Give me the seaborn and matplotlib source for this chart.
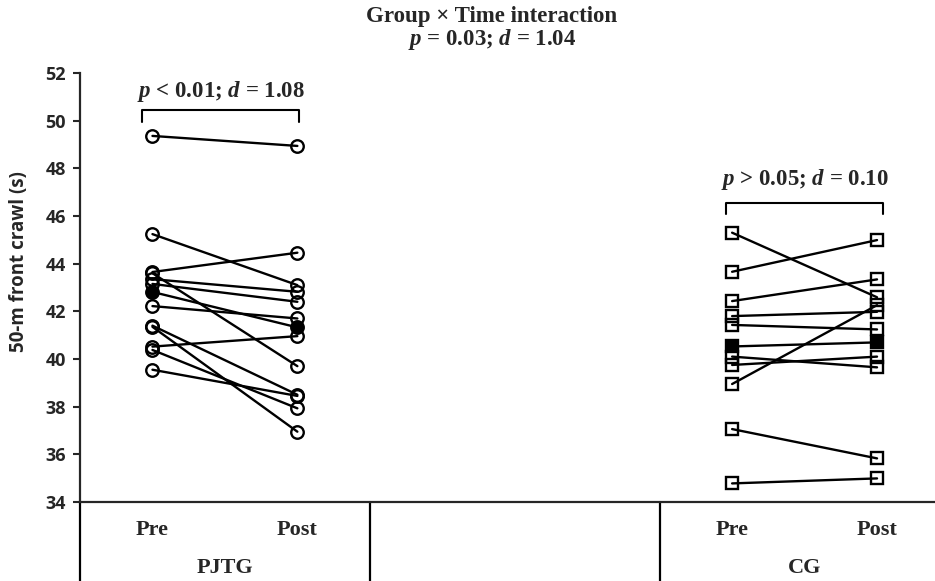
import numpy as np
import pandas as pd
import seaborn as sns
import matplotlib.pyplot as plt

# 50-m front crawl times (s), one entry per swimmer, pre/post in the same order
pjtg_pre = [49.36, 45.24, 43.65, 43.60, 43.35, 43.15, 42.22, 41.40, 41.35, 40.52, 40.38, 39.55]
pjtg_post = [48.94, 43.10, 44.46, 39.70, 42.82, 42.40, 41.70, 38.50, 36.95, 40.96, 37.93, 38.45]
cg_pre = [45.30, 43.66, 42.43, 41.80, 41.43, 40.10, 39.75, 38.95, 37.06, 34.78]
cg_post = [42.59, 44.99, 43.34, 41.98, 41.24, 39.65, 40.10, 42.26, 35.83, 34.99]

grupos = ['PJTG', 'CG']
momentos = ['Pre', 'Post']
posiciones = {'PJTG': [1, 2], 'CG': [5, 6]}
separadores = [0.5, 2.5, 4.5]
yticks = list(range(34, 53, 2))

titulo = 'Group × Time interaction'
subtitulo = r'$p$ = 0.03; $d$ = 1.04'
anot_pjtg = r'$p$ < 0.01; $d$ = 1.08'
anot_cg = r'$p$ > 0.05; $d$ = 0.10'

filas = []
for g, pre, post in [('PJTG', pjtg_pre, pjtg_post), ('CG', cg_pre, cg_post)]:
    for i, (a, b) in enumerate(zip(pre, post)):
        filas.append({'grupo': g, 'sujeto': f'{g}{i}', 'x': posiciones[g][0], 'tiempo': a})
        filas.append({'grupo': g, 'sujeto': f'{g}{i}', 'x': posiciones[g][1], 'tiempo': b})
datos = pd.DataFrame(filas)

sns.set_style('ticks')
plt.rcParams['font.family'] = ['Open Sans', 'DejaVu Sans']
plt.rcParams['mathtext.fontset'] = 'custom'
plt.rcParams['mathtext.it'] = 'Liberation Serif:italic:bold'
plt.rcParams['mathtext.rm'] = 'Liberation Serif:bold'
plt.rcParams['mathtext.bf'] = 'Liberation Serif:bold'

fig = plt.figure(figsize=(9.35, 5.81), dpi=100)
ax = fig.add_axes([80 / 935, 1 - 502 / 581, 855 / 935, 429 / 581])

marcas = {'PJTG': ('o', 9), 'CG': ('s', 8.5)}
for g in grupos:
    sub = datos[datos['grupo'] == g]
    m, ms = marcas[g]
    # cada sujeto
    sns.lineplot(data=sub, x='x', y='tiempo', units='sujeto', estimator=None,
                 color='black', lw=1.7, marker=m, markersize=ms,
                 markerfacecolor='none', markeredgecolor='black', markeredgewidth=1.7,
                 ax=ax, legend=False)
    # media del grupo
    sns.lineplot(data=sub, x='x', y='tiempo', estimator='mean', errorbar=None,
                 color='black', lw=1.7, marker=m, markersize=ms,
                 markerfacecolor='black', markeredgecolor='black', markeredgewidth=1.7,
                 ax=ax, legend=False)

ax.set_xlim(0.5, 6.4)
ax.set_ylim(34, 52)
ax.set_yticks(yticks)
ax.set_yticklabels([str(t) for t in yticks], fontsize=13, fontweight='bold')
ax.set_xticks(posiciones['PJTG'] + posiciones['CG'])
ax.set_xticklabels(momentos * 2, fontsize=16, fontweight='bold', family='Liberation Serif')
ax.tick_params(axis='x', length=0, pad=13)
ax.tick_params(axis='y', length=5, width=1.5, pad=5)
ax.set_xlabel('')
ax.set_ylabel('50-m front crawl (s)', fontsize=13.5, fontweight='bold')
ax.yaxis.set_label_coords(-0.06, 0.56)

sns.despine(ax=ax, top=True, right=True)
for s in ['left', 'bottom']:
    ax.spines[s].set_linewidth(1.6)

# lineas de la tabla de categorias
for xs in separadores:
    ax.axvline(xs, ymin=-0.2, ymax=0, color='black', lw=1.6, clip_on=False)

for g in grupos:
    ax.text(np.mean(posiciones[g]), -0.155, g, transform=ax.get_xaxis_transform(),
            ha='center', va='center', fontsize=16, fontweight='bold', family='Liberation Serif')

# corchetes de comparacion
def corchete(x0, x1, y, y_fin, texto, y_texto):
    ax.plot([x0, x0, x1, x1], [y_fin, y, y, y_fin], color='black', lw=1.5, clip_on=False)
    ax.text((x0 + x1) / 2, y_texto, texto, ha='center', va='center', fontsize=16.5,
            fontweight='bold', family='Liberation Serif')

corchete(0.93, 2.01, 50.45, 49.96, anot_pjtg, 51.22)
corchete(4.96, 6.04, 46.55, 46.09, anot_cg, 47.52)

fig.text(0.526, 0.972, titulo, ha='center', va='center', fontsize=16.5,
         fontweight='bold', family='Liberation Serif')
fig.text(0.526, 0.932, subtitulo, ha='center', va='center', fontsize=16.5,
         fontweight='bold', family='Liberation Serif')

fig.savefig('out.png', dpi=100)
